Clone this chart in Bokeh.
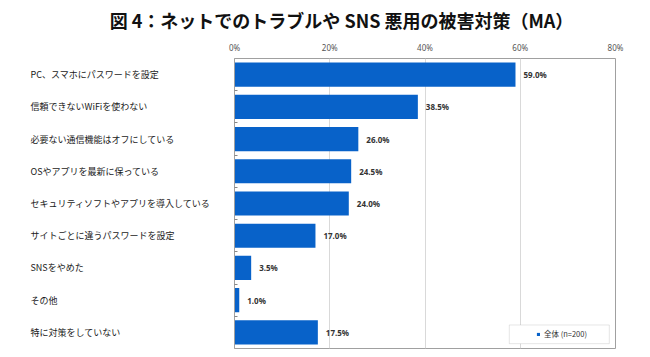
from bokeh.plotting import figure
from bokeh.layouts import column, row
from bokeh.models import (Range1d, FixedTicker, ColumnDataSource,
                          Legend, LegendItem, BoxAnnotation)
from bokeh.core.properties import value
from bokeh.embed import file_html
from bokeh.resources import INLINE

title_text = "図 4：ネットでのトラブルや SNS 悪用の被害対策（MA）"
categories = [
    "PC、スマホにパスワードを設定",
    "信頼できないWiFiを使わない",
    "必要ない通信機能はオフにしている",
    "OSやアプリを最新に保っている",
    "セキュリティソフトやアプリを導入している",
    "サイトごとに違うパスワードを設定",
    "SNSをやめた",
    "その他",
    "特に対策をしていない",
]
values = [59.0, 38.5, 26.0, 24.5, 24.0, 17.0, 3.5, 1.0, 17.5]
series_name = "全体 (n=200)"
x_ticks = [0, 20, 40, 60, 80]

BLUE = "#0862C9"
JP = "Noto Sans CJK JP"

n = len(categories)
ypos = [i + 0.5 for i in range(n)]
src = ColumnDataSource(dict(
    y=ypos, v=values, cat=categories,
    lbl=[f"{v:.1f}%" for v in values],
))
yr = Range1d(n, 0)


def bare(fig):
    fig.axis.visible = False
    fig.grid.grid_line_color = None
    fig.outline_line_color = None
    fig.background_fill_color = "white"
    fig.border_fill_color = "white"


# ---- title strip ----
tfig = figure(width=650, height=36, output_backend="svg", toolbar_location=None,
              x_range=Range1d(0, 1), y_range=Range1d(0, 1),
              min_border_left=0, min_border_right=0, min_border_top=0,
              min_border_bottom=0)
bare(tfig)
tfig.text(x=[0.5], y=[0.5], text=[title_text], x_offset=16, y_offset=1,
          text_align="center", text_baseline="middle",
          text_font=value(JP), text_font_size="18px", text_font_style="bold",
          text_color="#111111")

# ---- category label column ----
lfig = figure(width=226, height=321, output_backend="svg", toolbar_location=None,
              x_range=Range1d(0, 1), y_range=yr,
              min_border_left=0, min_border_right=0, min_border_top=22,
              min_border_bottom=9)
bare(lfig)
lfig.text(x=0, y="y", text="cat", source=src, x_offset=30,
          text_align="left", text_baseline="middle",
          text_font=value(JP), text_font_size="9px", text_color="#1a1a1a")

# ---- chart ----
p = figure(width=424, height=321, output_backend="svg", toolbar_location=None,
           x_range=Range1d(0, 80), y_range=yr,
           x_axis_location="above",
           min_border_left=8, min_border_right=35, min_border_top=22,
           min_border_bottom=9)
p.background_fill_color = "white"
p.border_fill_color = "white"
p.outline_line_color = "#a0a0a0"
p.outline_line_width = 1

bars = p.hbar(y="y", right="v", left=0, height=0.75, source=src,
              fill_color=BLUE, line_color=None)

p.text(x="v", y="y", text="lbl", source=src, x_offset=8,
       text_baseline="middle", text_align="left",
       text_font_size="8px", text_font_style="bold", text_color="#333333",
       text_font=value("Noto Sans"))

xa = p.xaxis[0]
xa.ticker = FixedTicker(ticks=x_ticks)
xa.major_label_overrides = {t: f"{t}%" for t in x_ticks}
xa.major_label_text_font_size = "8px"
xa.major_label_text_color = "#555555"
xa.major_label_text_font = "Noto Sans"
xa.major_label_standoff = 6
xa.major_tick_out = 0
xa.major_tick_in = 0
xa.minor_tick_out = 0
xa.axis_line_color = None

p.xgrid.ticker = FixedTicker(ticks=x_ticks)
p.xgrid.grid_line_color = "#d9d9d9"
p.ygrid.grid_line_color = None

ya = p.yaxis[0]
ya.ticker = FixedTicker(ticks=list(range(1, n)))
ya.major_label_text_alpha = 0
ya.major_label_text_font_size = "1px"
ya.major_label_standoff = 0
ya.major_tick_in = 3
ya.major_tick_out = 0
ya.minor_tick_out = 0
ya.minor_tick_in = 0
ya.major_tick_line_color = "#888888"
ya.axis_line_color = "#a0a0a0"

box = BoxAnnotation(left=57.7, right=78.7, top=8.27, bottom=8.85,
                    fill_color="white", fill_alpha=1.0,
                    line_color="#aaaaaa", line_width=1)
p.add_layout(box)

legend = Legend(items=[LegendItem(label=series_name, renderers=[bars])],
                location=(302, 9), padding=0, margin=0, spacing=0,
                glyph_width=4, glyph_height=4, label_height=10,
                label_standoff=4, label_text_font_size="7.5px",
                label_text_color="#333333", label_text_font=JP,
                border_line_color=None, background_fill_alpha=0)
p.add_layout(legend)

layout = column(tfig, row(lfig, p, spacing=0), spacing=0)
open("out.html", "w").write(file_html(layout, INLINE))
